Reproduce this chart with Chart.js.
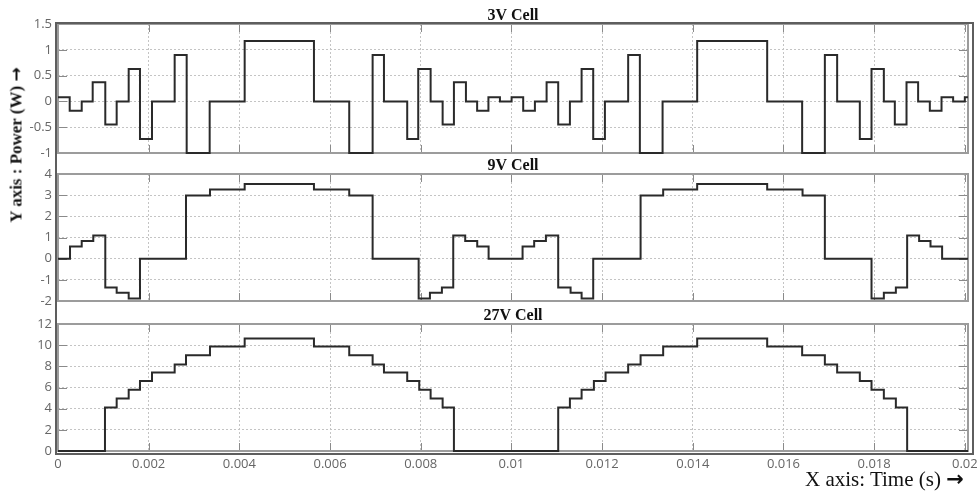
<!DOCTYPE html>
<html>
<head>
<meta charset="utf-8">
<title>3V / 9V / 27V Cell power</title>
<script src="https://cdn.jsdelivr.net/npm/chart.js@4"></script>
<style>
  html, body { margin: 0; padding: 0; background: #ffffff; }
  #wrap { position: relative; width: 979px; height: 491px; overflow: hidden; background: #fff; }
  #wrap canvas { position: absolute; left: 0; }
  #frame { position: absolute; left: 55px; top: 22px; width: 915px; height: 429px;
           border: 2px solid #5e5e5e; pointer-events: none; }
  #ylab { position: absolute; left: 16px; top: 145px; white-space: nowrap;
          transform: translate(-50%, -50%) rotate(-90deg);
          font: bold 17px "Liberation Serif", "Times New Roman", serif; color: #111; line-height: 1; }
  #xlab { position: absolute; left: 805px; top: 469px; white-space: nowrap;
          font: 21px "Liberation Serif", "Times New Roman", serif; color: #111; line-height: 21px; }
  #xlab b, #ylab b { font-family: "DejaVu Sans", sans-serif; font-weight: bold; }
</style>
</head>
<body>
<div id="wrap">
  <canvas id="c1" width="979" height="170" style="top:0px"></canvas>
  <canvas id="c2" width="979" height="170" style="top:150px"></canvas>
  <canvas id="c3" width="979" height="191" style="top:300px"></canvas>
  <div id="frame"></div>
  <div id="ylab">Y axis : Power (W) <b>→</b></div>
  <div id="xlab">X axis: Time (s) <b>→</b></div>
</div>
<script>
// ---------------- data (time in seconds, power in W) ----------------
const panelTitles = ['3V Cell', '9V Cell', '27V Cell'];

const xMin = 0;
const xMax = 0.02007;
const xTicks = [0, 0.002, 0.004, 0.006, 0.008, 0.01, 0.012, 0.014, 0.016, 0.018, 0.02];
const xTickLabels = ['0', '0.002', '0.004', '0.006', '0.008', '0.01', '0.012', '0.014', '0.016', '0.018', '0.02'];

const y3Ticks = [-1, -0.5, 0, 0.5, 1, 1.5];
const y3TickLabels = ['-1', '-0.5', '0', '0.5', '1', '1.5'];
const y9Ticks = [-2, -1, 0, 1, 2, 3, 4];
const y9TickLabels = ['-2', '-1', '0', '1', '2', '3', '4'];
const y27Ticks = [0, 2, 4, 6, 8, 10, 12];
const y27TickLabels = ['0', '2', '4', '6', '8', '10', '12'];

// 3V cell: each time is the start of a level that holds until the next time
const cell3Times = [0, 0.000258, 0.000523, 0.000765, 0.001043, 0.001294, 0.001559, 0.001808, 0.002073,
  0.002573, 0.002838, 0.003345, 0.004117, 0.005645, 0.006423, 0.006939, 0.007189, 0.007702, 0.007945,
  0.008218, 0.008483, 0.008732, 0.008997, 0.009244, 0.009493, 0.009747,
  0.010004, 0.010260, 0.010518, 0.010776, 0.011032, 0.011290, 0.011548, 0.011804, 0.012062,
  0.012575, 0.012833, 0.013334, 0.014097, 0.015641, 0.016412, 0.016913, 0.017184, 0.017684, 0.017942,
  0.018214, 0.018456, 0.018714, 0.018970, 0.019228, 0.019486, 0.019742, 0.020000];
const cell3Power = [0.08, -0.18, 0, 0.37, -0.45, 0, 0.63, -0.73, 0,
  0.9, -1, 0, 1.17, 0, -1, 0.9, 0, -0.73, 0.63,
  0, -0.45, 0.37, 0, -0.18, 0.08, 0,
  0.08, -0.18, 0, 0.37, -0.45, 0, 0.63, -0.73, 0,
  0.9, -1, 0, 1.17, 0, -1, 0.9, 0, -0.73, 0.63,
  0, -0.45, 0.37, 0, -0.18, 0.08, 0, 0.08];

// 9V cell
const cell9Times = [0, 0.000265, 0.000523, 0.000778, 0.001043, 0.001294, 0.001559, 0.001808, 0.002823,
  0.003352, 0.004117, 0.005645, 0.006423, 0.006939, 0.007954, 0.008203, 0.008467, 0.008717, 0.008981,
  0.009246, 0.009497,
  0.010246, 0.010502, 0.010761, 0.011032, 0.011305, 0.011548, 0.011804, 0.012849, 0.013347,
  0.014097, 0.015641, 0.016421, 0.016913, 0.017942, 0.018214, 0.018479, 0.018728, 0.018992,
  0.019243, 0.019499];
const cell9Power = [0, 0.58, 0.84, 1.09, -1.36, -1.61, -1.88, 0, 2.98,
  3.27, 3.53, 3.27, 2.98, 0, -1.88, -1.61, -1.36, 1.09, 0.84,
  0.58, 0,
  0.58, 0.84, 1.09, -1.36, -1.61, -1.88, 0, 2.98, 3.27,
  3.53, 3.27, 2.98, 0, -1.88, -1.61, -1.36, 1.09, 0.84,
  0.58, 0];

// 27V cell
const cell27Times = [0, 0.001036, 0.001294, 0.001559, 0.001808, 0.002073, 0.002573, 0.002823, 0.003352,
  0.004117, 0.005645, 0.006423, 0.006939, 0.007189, 0.007702, 0.007967, 0.008218, 0.008483, 0.008732,
  0.011032, 0.011290, 0.011548, 0.011819, 0.012077, 0.012575, 0.012849, 0.013347, 0.014097,
  0.015641, 0.016412, 0.016913, 0.017184, 0.017684, 0.017942, 0.018214, 0.018479, 0.018728];
const cell27Power = [0, 4.1, 4.95, 5.78, 6.62, 7.42, 8.17, 9.05, 9.87,
  10.63, 9.87, 9.05, 8.17, 7.42, 6.62, 5.78, 4.95, 4.1, 0,
  4.1, 4.95, 5.78, 6.62, 7.42, 8.17, 9.05, 9.87, 10.63,
  9.87, 9.05, 8.17, 7.42, 6.62, 5.78, 4.95, 4.1, 0];

// ---------------- chart construction ----------------
Chart.defaults.font.family = '"Open Sans", "DejaVu Sans", sans-serif';
Chart.defaults.color = '#666';

function toPoints(times, values) {
  const pts = times.map((t, i) => ({ x: t, y: values[i] }));
  pts.push({ x: xMax, y: values[values.length - 1] });
  return pts;
}

const panelDecor = {
  id: 'panelDecor',
  beforeDatasetsDraw(chart) {
    const { ctx, chartArea: a, scales } = chart;
    const x = scales.x, y = scales.y;
    ctx.save();
    ctx.strokeStyle = '#8a8a8a';
    ctx.lineWidth = 1;
    ctx.beginPath();
    x.ticks.forEach(t => {
      const px = Math.round(x.getPixelForValue(t.value)) + 0.5;
      if (px <= a.left + 2 || px >= a.right - 2) return;
      ctx.moveTo(px, a.top); ctx.lineTo(px, a.top + 8);
      ctx.moveTo(px, a.bottom); ctx.lineTo(px, a.bottom - 8);
    });
    y.ticks.forEach(t => {
      const py = Math.round(y.getPixelForValue(t.value)) + 0.5;
      if (py <= a.top + 2 || py >= a.bottom - 2) return;
      ctx.moveTo(a.left, py); ctx.lineTo(a.left + 9, py);
      ctx.moveTo(a.right, py); ctx.lineTo(a.right - 9, py);
    });
    ctx.stroke();
    ctx.strokeStyle = '#9c9c9c';
    ctx.lineWidth = 2;
    ctx.strokeRect(a.left, a.top, a.width, a.height);
    ctx.restore();
  }
};

function makePanel(canvasId, title, times, values, yMin, yMax, yTicks, yLabels, xAxisHeight, showXLabels) {
  return new Chart(document.getElementById(canvasId), {
    type: 'line',
    data: {
      datasets: [{
        data: toPoints(times, values),
        borderColor: '#2a2a2a',
        borderWidth: 2,
        pointRadius: 0,
        stepped: 'before',
        fill: false,
        clip: 4
      }]
    },
    options: {
      responsive: false,
      devicePixelRatio: 1,
      animation: false,
      events: [],
      layout: { padding: { left: 0, right: 11, top: 0, bottom: 0 } },
      plugins: {
        legend: { display: false },
        tooltip: { enabled: false },
        title: {
          display: true,
          text: title,
          fullSize: false,
          color: '#111',
          font: { family: '"Liberation Serif", "Times New Roman", serif', size: 16, weight: 'bold', lineHeight: 1 },
          padding: { top: 8, bottom: 0 }
        }
      },
      scales: {
        x: {
          type: 'linear',
          min: xMin,
          max: xMax,
          afterBuildTicks: s => { s.ticks = xTicks.map(v => ({ value: v })); },
          afterFit: s => { s.height = xAxisHeight; s.paddingLeft = 0; s.paddingRight = 0; },
          ticks: {
            display: showXLabels,
            padding: 5,
            color: '#666',
            font: { size: 13 },
            maxRotation: 0,
            autoSkip: false,
            callback: (v, i) => xTickLabels[i]
          },
          grid: { color: '#c4c4c4', lineWidth: 1, drawTicks: false },
          border: { display: false, dash: [2, 2] }
        },
        y: {
          type: 'linear',
          min: yMin,
          max: yMax,
          afterBuildTicks: s => { s.ticks = yTicks.map(v => ({ value: v })); },
          afterFit: s => { s.width = 58; s.paddingTop = 0; s.paddingBottom = 0; },
          ticks: {
            padding: 6,
            color: '#666',
            font: { size: 13 },
            autoSkip: false,
            callback: (v, i) => yLabels[i]
          },
          grid: { color: '#c4c4c4', lineWidth: 1, drawTicks: false },
          border: { display: false, dash: [2, 2] }
        }
      }
    },
    plugins: [panelDecor]
  });
}

makePanel('c1', panelTitles[0], cell3Times, cell3Power, -1, 1.5, y3Ticks, y3TickLabels, 17, false);
makePanel('c2', panelTitles[1], cell9Times, cell9Power, -2, 4, y9Ticks, y9TickLabels, 19, false);
makePanel('c3', panelTitles[2], cell27Times, cell27Power, 0, 12, y27Ticks, y27TickLabels, 40, true);
</script>
</body>
</html>
